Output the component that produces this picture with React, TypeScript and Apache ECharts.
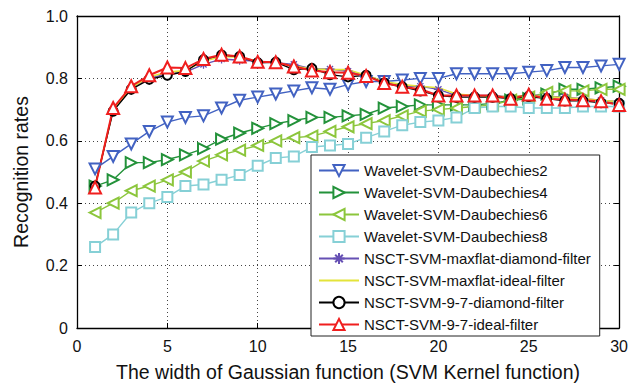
import React, { useEffect, useRef } from "react";
import * as echarts from "echarts";

const xs = [1, 2, 3, 4, 5, 6, 7, 8, 9, 10, 11, 12, 13, 14, 15, 16, 17, 18, 19, 20, 21, 22, 23, 24, 25, 26, 27, 28, 29, 30];

const daub2 = [0.51, 0.55, 0.59, 0.63, 0.66, 0.675, 0.68, 0.705, 0.73, 0.74, 0.75, 0.76, 0.77, 0.765, 0.78, 0.79, 0.79, 0.795, 0.8, 0.8, 0.815, 0.815, 0.815, 0.815, 0.82, 0.825, 0.835, 0.835, 0.84, 0.845];
const daub4 = [0.455, 0.475, 0.53, 0.53, 0.54, 0.555, 0.575, 0.605, 0.625, 0.64, 0.655, 0.665, 0.675, 0.675, 0.68, 0.685, 0.705, 0.71, 0.715, 0.715, 0.715, 0.715, 0.72, 0.73, 0.735, 0.75, 0.765, 0.765, 0.77, 0.775];
const daub6 = [0.37, 0.4, 0.44, 0.455, 0.475, 0.5, 0.535, 0.555, 0.57, 0.585, 0.6, 0.61, 0.615, 0.63, 0.645, 0.655, 0.665, 0.68, 0.695, 0.7, 0.705, 0.71, 0.715, 0.73, 0.74, 0.755, 0.76, 0.76, 0.765, 0.765];
const daub8 = [0.26, 0.3, 0.37, 0.4, 0.42, 0.455, 0.46, 0.475, 0.49, 0.52, 0.545, 0.55, 0.58, 0.585, 0.59, 0.61, 0.63, 0.65, 0.66, 0.665, 0.675, 0.705, 0.71, 0.71, 0.705, 0.705, 0.705, 0.71, 0.71, 0.71];
const maxflatDiamond = [0.455, 0.7, 0.77, 0.8, 0.815, 0.82, 0.845, 0.862, 0.858, 0.855, 0.85, 0.845, 0.83, 0.83, 0.823, 0.81, 0.79, 0.775, 0.775, 0.765, 0.745, 0.745, 0.745, 0.74, 0.748, 0.743, 0.74, 0.735, 0.73, 0.725];
const maxflatIdeal = [0.455, 0.7, 0.77, 0.805, 0.82, 0.825, 0.855, 0.87, 0.868, 0.855, 0.85, 0.84, 0.83, 0.828, 0.828, 0.81, 0.79, 0.78, 0.775, 0.77, 0.75, 0.745, 0.742, 0.742, 0.745, 0.742, 0.738, 0.735, 0.73, 0.725];
const ninesevenDiamond = [0.455, 0.695, 0.765, 0.797, 0.81, 0.822, 0.86, 0.875, 0.87, 0.85, 0.852, 0.828, 0.832, 0.812, 0.805, 0.81, 0.785, 0.773, 0.76, 0.745, 0.74, 0.74, 0.74, 0.735, 0.742, 0.735, 0.728, 0.728, 0.722, 0.72];
const ninesevenIdeal = [0.45, 0.705, 0.775, 0.81, 0.835, 0.833, 0.862, 0.876, 0.87, 0.853, 0.852, 0.838, 0.825, 0.82, 0.818, 0.808, 0.785, 0.773, 0.765, 0.745, 0.745, 0.745, 0.745, 0.735, 0.748, 0.735, 0.732, 0.73, 0.727, 0.715];

const FONT = "'Liberation Sans', Arial, Helvetica, sans-serif";
const STAR = "path://M5,0L5,10M0,5L10,5M1.6,1.6L8.4,8.4M1.6,8.4L8.4,1.6";

type Spec = { name: string; data: number[]; color: string; symbol: string; size: number; rotate: number; width: number };

const specs: Spec[] = [
  { name: "Wavelet-SVM-Daubechies2", data: daub2, color: "#4262c2", symbol: "emptyTriangle", size: 11, rotate: 180, width: 1.4 },
  { name: "Wavelet-SVM-Daubechies4", data: daub4, color: "#23923a", symbol: "emptyTriangle", size: 11, rotate: -90, width: 1.4 },
  { name: "Wavelet-SVM-Daubechies6", data: daub6, color: "#8cc63c", symbol: "emptyTriangle", size: 11, rotate: 90, width: 1.4 },
  { name: "Wavelet-SVM-Daubechies8", data: daub8, color: "#86d0d6", symbol: "emptyRect", size: 10, rotate: 0, width: 1.4 },
  { name: "NSCT-SVM-maxflat-diamond-filter", data: maxflatDiamond, color: "#6650b4", symbol: STAR, size: 9, rotate: 0, width: 1.4 },
  { name: "NSCT-SVM-maxflat-ideal-filter", data: maxflatIdeal, color: "#e4e43a", symbol: "none", size: 0, rotate: 0, width: 1.6 },
  { name: "NSCT-SVM-9-7-diamond-filter", data: ninesevenDiamond, color: "#000000", symbol: "emptyCircle", size: 9, rotate: 0, width: 1.4 },
  { name: "NSCT-SVM-9-7-ideal-filter", data: ninesevenIdeal, color: "#f01e1e", symbol: "emptyTriangle", size: 12, rotate: 0, width: 2 },
];

export default function App() {
  const ref = useRef<HTMLDivElement>(null);
  useEffect(() => {
    if (!ref.current) return;
    const chart = echarts.init(ref.current, undefined, { renderer: "svg" });
    const series = specs.map((s) => ({
      name: s.name,
      type: "line",
      data: xs.map((x, i) => [x, s.data[i]]),
      symbol: s.symbol,
      symbolSize: s.size,
      symbolRotate: s.rotate,
      showSymbol: s.symbol !== "none",
      lineStyle: { color: s.color, width: s.width },
      itemStyle: { color: s.color, borderColor: s.color, borderWidth: 1.3 },
      emphasis: { disabled: true },
      xAxisIndex: 0,
      yAxisIndex: 0,
    }));
    const axisLine = { show: true, onZero: false, lineStyle: { color: "#000", width: 1.3 } };
    const tick = { show: true, inside: true, length: 5, lineStyle: { color: "#000", width: 1 } };
    chart.setOption({
      animation: false,
      backgroundColor: "#fff",
      textStyle: { fontFamily: FONT },
      grid: { left: 77, right: 9, top: 16, bottom: 59, show: false },
      legend: {
        orient: "vertical",
        left: 311,
        top: 155,
        padding: [8, 9, 4, 7],
        itemGap: 7,
        itemWidth: 40,
        itemHeight: 14,
        selectedMode: false,
        borderColor: "#222",
        borderWidth: 1,
        backgroundColor: "#fff",
        borderRadius: 0,
        textStyle: { fontSize: 15, color: "#111", fontFamily: FONT },
        data: specs.map((s) =>
          s.symbol === "none" ? { name: s.name, itemStyle: { opacity: 0 } } : { name: s.name }
        ),
      },
      xAxis: [
        {
          type: "value",
          min: 0,
          max: 30,
          interval: 5,
          name: "The width of Gaussian function (SVM Kernel function)",
          nameLocation: "middle",
          nameGap: 34,
          nameTextStyle: { fontSize: 19.5, color: "#111", fontFamily: FONT },
          axisLine,
          axisTick: tick,
          axisLabel: { fontSize: 16, color: "#111", margin: 10, fontFamily: FONT },
          splitLine: { show: true, lineStyle: { color: "#444", width: 1, type: [1, 3] } },
        },
        {
          type: "value",
          position: "top",
          min: 0,
          max: 30,
          interval: 5,
          axisLine,
          axisTick: tick,
          axisLabel: { show: false },
          splitLine: { show: false },
        },
      ],
      yAxis: [
        {
          type: "value",
          min: 0,
          max: 1,
          interval: 0.2,
          name: "Recognition rates",
          nameLocation: "middle",
          nameGap: 46,
          nameTextStyle: { fontSize: 19.5, color: "#111", fontFamily: FONT },
          axisLine,
          axisTick: tick,
          axisLabel: {
            fontSize: 16,
            color: "#111",
            margin: 9,
            fontFamily: FONT,
            formatter: (v: number) => (v === 0 ? "0" : v.toFixed(1)),
          },
          splitLine: { show: true, lineStyle: { color: "#444", width: 1, type: [1, 3] } },
        },
        {
          type: "value",
          position: "right",
          min: 0,
          max: 1,
          interval: 0.2,
          axisLine,
          axisTick: tick,
          axisLabel: { show: false },
          splitLine: { show: false },
        },
      ],
      series,
    });
    return () => chart.dispose();
  }, []);
  return <div ref={ref} style={{ position: "fixed", left: 0, top: 0, width: 631, height: 387 }} />;
}
